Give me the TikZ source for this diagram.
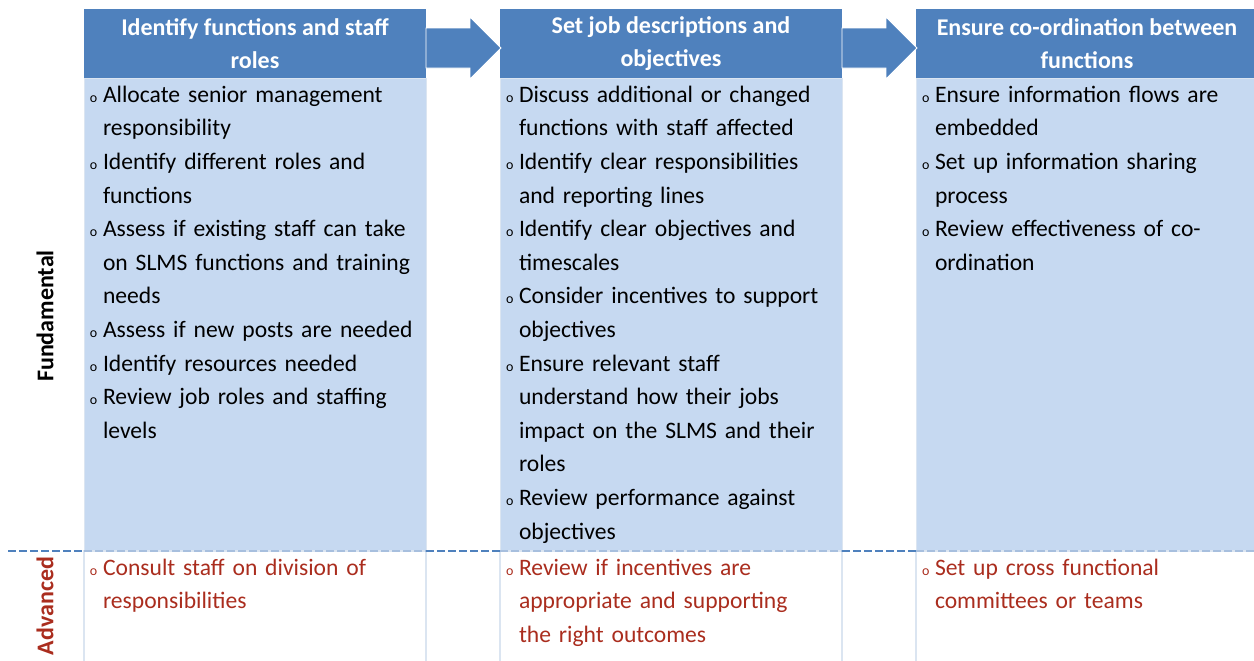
\documentclass[tikz,border=0pt]{standalone}
\usepackage{fontspec}
\setmainfont{Carlito}
\usetikzlibrary{positioning}
\definecolor{headblue}{HTML}{4F81BD}
\definecolor{cellblue}{HTML}{C6D9F1}
\definecolor{edgeblue}{HTML}{DBE5F1}
\definecolor{dashlight}{HTML}{A7BFDE}
\definecolor{advred}{RGB}{170,45,30}
\newcommand\bul{\par\noindent\hangindent=6.5pt\hangafter=1\makebox[6.5pt][l]{\fontsize{7}{7}\selectfont o}}
\begin{document}
\begin{tikzpicture}[x=0.5pt, y=-0.5pt, every node/.style = {inner sep=0pt, outer sep=0pt}]
			\tikzset{ headbox/.style = {rectangle, fill=headblue, minimum width=171pt, minimum height=34.5pt, text=white, align=center, font=\fontsize{12}{16.5}\selectfont\bfseries} }
			\tikzset{ cellbox/.style = {rectangle, fill=cellblue, draw=edgeblue, line width=.5pt, minimum width=171pt, minimum height=236.5pt} }
			\tikzset{ advbox/.style = {rectangle, draw=edgeblue, line width=1pt, minimum width=171pt, minimum height=56pt} }
			\tikzset{ listtext/.style = {anchor=north west, yshift=8pt, text width=166pt, align=left, inner xsep=3pt, inner ysep=3.3pt, font=\fontsize{11.8}{16.8}\selectfont} }
			\tikzset{ sidelabel/.style = {rotate=90, font=\fontsize{12}{14}\selectfont\bfseries} }
			\tikzset{ sepdark/.style = {draw=headblue, line width=1pt, dash pattern=on 4pt off 1.5pt} }
			\tikzset{ seplight/.style = {draw=dashlight, line width=1pt, dash pattern=on 4pt off 1.5pt} }
			\useasboundingbox (0,0) rectangle (1254,660);
			\clip (0,0) rectangle (1254,660);
			% column heads
			\node [headbox] (h1) at (255,43.5) {Identify functions and staff\\roles};
			\node [headbox, right=37pt of h1] (h2) {Set job descriptions and\\objectives};
			\node [headbox, right=37pt of h2] (h3) {Ensure co-ordination between\\functions};
			% fundamental and advanced cells
			\node [cellbox, below=0pt of h1] (b1) {};
			\node [cellbox, below=0pt of h2] (b2) {};
			\node [cellbox, below=0pt of h3] (b3) {};
			\node [advbox, below=0pt of b1] (a1) {};
			\node [advbox, below=0pt of b2] (a2) {};
			\node [advbox, below=0pt of b3] (a3) {};
			% block arrows
			\foreach \from/\to in {h1/h2, h2/h3}
				\fill [headblue, draw=white, line width=.4pt] ([yshift=-2.25pt]\from.east) ++(0,-20) -- ++(44,0) -- ++(0,-11) -- ++(31,31) -- ++(-31,31) -- ++(0,-11) -- ++(-44,0) -- cycle;
			% separator
			\coordinate (sepstart) at (8,551);
			\draw [sepdark] (sepstart) -- (b1.south west);
			\draw [sepdark] (b1.south east) -- (b2.south west);
			\draw [sepdark] (b2.south east) -- (b3.south west);
			\foreach \c in {b1, b2, b3}
				\draw [seplight] (\c.south west) -- (\c.south east);
			% side labels
			\node [sidelabel] (fund) at (45,316) {Fundamental};
			\node [sidelabel, text=advred] (adv) at (45,606) {Advanced};
			% texts
			\node [listtext] (t1) at (b1.north west) {\bul Allocate senior management\newline responsibility
				\bul Identify different roles and\newline functions
				\bul Assess if existing staff can take\newline on SLMS functions and training\newline needs
				\bul Assess if new posts are needed
				\bul Identify resources needed
				\bul Review job roles and staffing\newline levels\par};
			\node [listtext] (t2) at (b2.north west) {\bul Discuss additional or changed\newline functions with staff affected
				\bul Identify clear responsibilities\newline and reporting lines
				\bul Identify clear objectives and\newline timescales
				\bul Consider incentives to support\newline objectives
				\bul Ensure relevant staff\newline understand how their jobs\newline impact on the SLMS and their\newline roles
				\bul Review performance against\newline objectives\par};
			\node [listtext] (t3) at (b3.north west) {\bul Ensure information flows are\newline embedded
				\bul Set up information sharing\newline process
				\bul Review effectiveness of co-\newline ordination\par};
			\node [listtext, text=advred] (r1) at (a1.north west) {\bul Consult staff on division of\newline responsibilities\par};
			\node [listtext, text=advred] (r2) at (a2.north west) {\bul Review if incentives are\newline appropriate and supporting\newline the right outcomes\par};
			\node [listtext, text=advred] (r3) at (a3.north west) {\bul Set up cross functional\newline committees or teams\par};
		\end{tikzpicture}
\end{document}
